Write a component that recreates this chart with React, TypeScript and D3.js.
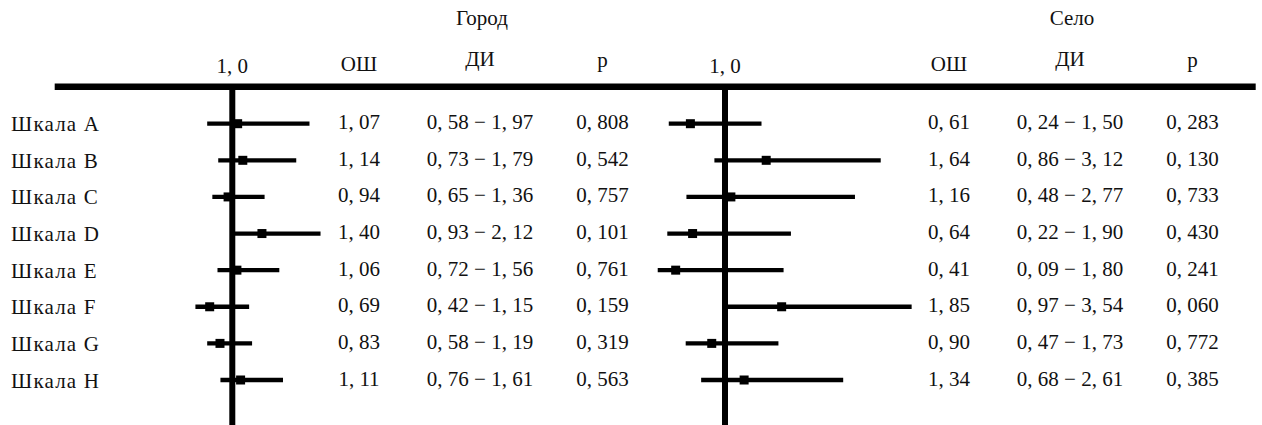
import React from "react";
import * as d3 from "d3";

const scales = ["Шкала A", "Шкала B", "Шкала C", "Шкала D", "Шкала E", "Шкала F", "Шкала G", "Шкала H"];

const cityOR = [1.07, 1.14, 0.94, 1.40, 1.06, 0.69, 0.83, 1.11];
const cityLow = [0.58, 0.73, 0.65, 0.93, 0.72, 0.42, 0.58, 0.76];
const cityHigh = [1.97, 1.79, 1.36, 2.12, 1.56, 1.15, 1.19, 1.61];
const cityP = ["0,808", "0,542", "0,757", "0,101", "0,761", "0,159", "0,319", "0,563"];

const villageOR = [0.61, 1.64, 1.16, 0.64, 0.41, 1.85, 0.90, 1.34];
const villageLow = [0.24, 0.86, 0.48, 0.22, 0.09, 0.97, 0.47, 0.68];
const villageHigh = [1.50, 3.12, 2.77, 1.90, 1.80, 3.54, 1.73, 2.61];
const villageP = ["0,283", "0,130", "0,733", "0,430", "0,241", "0,060", "0,772", "0,385"];

const groupTitles = ["Город", "Село"];
const colHeaders = ["ОШ", "ДИ", "p"];
const refTick = "1,0";

const FONT = "'Liberation Serif', 'Times New Roman', serif";

const fmt = (v: number) => v.toFixed(2).replace(".", ", ");
const fmtS = (s: string) => s.replace(",", ", ");

export default function App() {
  const W = 1262, H = 425;
  const y = d3.scalePoint<string>().domain(scales).range([123.7, 380]);
  const xCity = d3.scaleLinear().domain([0, 4]).range([164.5, 164.5 + 73.6 * 4]);
  const xVil = d3.scaleLinear().domain([0, 4]).range([651.1, 651.1 + 73.6 * 4]);
  const sqOff = -5.6;
  const sq = 9;

  const panels = [
    { x: xCity, or: cityOR, lo: cityLow, hi: cityHigh, p: cityP, ref: xCity(1) - 5.8, orX: 359, ciX: 480, pX: 602.5, title: groupTitles[0], titleX: 482 },
    { x: xVil, or: villageOR, lo: villageLow, hi: villageHigh, p: villageP, ref: xVil(1) + 0.3, orX: 949, ciX: 1070, pX: 1192.5, title: groupTitles[1], titleX: 1072 },
  ];

  return (
    <svg width={W} height={H} style={{ position: "absolute", left: 0, top: 0, background: "#fff" }} fontFamily={FONT} fontSize={21}>
      <rect x={0} y={0} width={W} height={H} fill="#fff" />
      <line x1={54.7} x2={1255.7} y1={86.7} y2={86.7} stroke="#000" strokeWidth={6.5} />
      {scales.map((s) => (
        <text key={s} x={11} y={(y(s) as number) + 7.5} fill="#111" letterSpacing={1.2}>{s}</text>
      ))}
      {panels.map((pn, pi) => (
        <g key={pi}>
          <text x={pn.titleX} y={25} textAnchor="middle" fill="#111">{pn.title}</text>
          <text x={pn.ref} y={73} textAnchor="middle" fill="#111">{fmtS(refTick)}</text>
          <text x={pn.orX} y={71} textAnchor="middle" fill="#111">{colHeaders[0]}</text>
          <text x={pn.ciX} y={66} textAnchor="middle" fill="#111">{colHeaders[1]}</text>
          <text x={pn.pX} y={67} textAnchor="middle" fill="#111">{colHeaders[2]}</text>
          <line x1={pn.ref} x2={pn.ref} y1={86.7} y2={H} stroke="#000" strokeWidth={6} />
          {scales.map((s, i) => {
            const yy = y(s) as number;
            return (
              <g key={s}>
                <line x1={pn.x(pn.lo[i])} x2={pn.x(pn.hi[i])} y1={yy} y2={yy} stroke="#000" strokeWidth={4.3} />
                <rect x={pn.x(pn.or[i]) + sqOff - sq / 2} y={yy - sq / 2} width={sq} height={sq} fill="#000" />
                <text x={pn.orX} y={yy + 5.5} textAnchor="middle" fill="#111">{fmt(pn.or[i])}</text>
                <text x={pn.ciX} y={yy + 5.5} textAnchor="middle" fill="#111">{`${fmt(pn.lo[i])} \u2212 ${fmt(pn.hi[i])}`}</text>
                <text x={pn.pX} y={yy + 5.5} textAnchor="middle" fill="#111">{fmtS(pn.p[i])}</text>
              </g>
            );
          })}
        </g>
      ))}
    </svg>
  );
}
